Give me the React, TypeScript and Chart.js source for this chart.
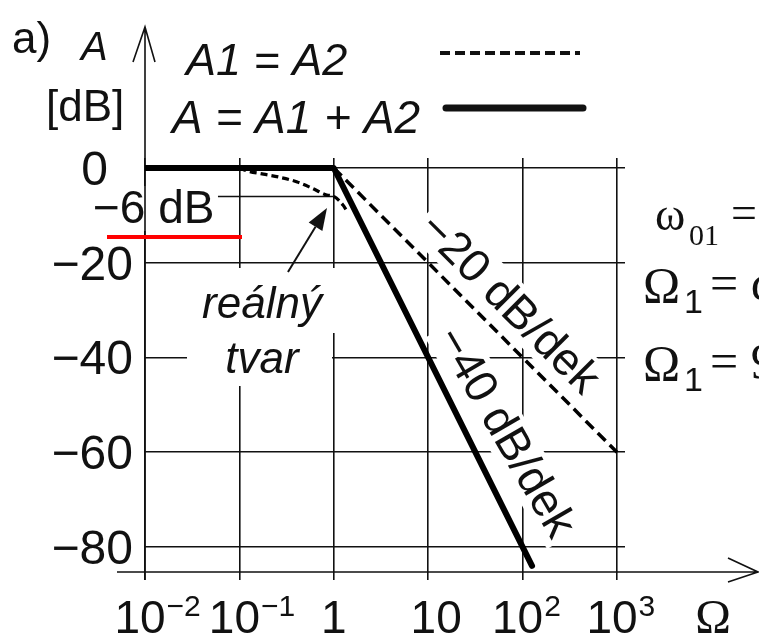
import React, { useEffect, useRef } from "react";
import { Chart, registerables } from "chart.js";

Chart.register(...registerables);

// Frequency decades (normalised Ω) and dB gridlines
const decades = [0.01, 0.1, 1, 10, 100, 1000];
const dbTicks = [0, -20, -40, -60, -80];
const xTickBase = ["10", "10", "1", "10", "10", "10"];
const xTickExp = ["\u22122", "\u22121", "", "", "2", "3"];
const yTickLabels = ["0", "\u221220", "\u221240", "\u221260", "\u221280"];

// A = A1 + A2 asymptote: flat up to the corner, then -40 dB/dek
const sumOmega = [0.01, 1, 125.9];
const sumDb = [0, 0, -84];

// A1 = A2 asymptote: -20 dB/dek from the corner
const singleOmega = [1, 1000];
const singleDb = [0, -60];

// real shape of A around the corner frequency
const realOmega = [0.1, 0.12, 0.18, 0.26, 0.41, 0.58, 0.84, 1, 1.25, 1.35];
const realDb = [0, -0.6, -1.3, -1.9, -2.95, -4.2, -5.7, -6, -7.8, -8.8];

// -6 dB reference level
const sixOmega = [0.0593, 1];
const sixDb = [-6, -6];

// annotation anchors (Ω, dB)
const slope20Anchor = [73.5, -28.5];
const slope40Anchor = [66.7, -55.7];
const arrowFrom = [0.327, -21.95];
const arrowTo = [0.847, -8.44];

const INK = "#111";
const SANS = '"Liberation Sans", Arial, Helvetica, sans-serif';
const SERIF = '"Liberation Serif", "Times New Roman", serif';

const pts = (xs: number[], ys: number[]) => xs.map((x, i) => ({ x, y: ys[i] }));

function rotatedLabel(ctx: CanvasRenderingContext2D, text: string, cx: number, cy: number, angle: number) {
  ctx.save();
  ctx.translate(cx, cy);
  ctx.rotate(angle);
  ctx.font = `46px ${SANS}`;
  const w = ctx.measureText(text).width;
  ctx.fillStyle = "#fff";
  ctx.fillRect(-w / 2 - 5, -23, w + 10, 46);
  ctx.fillStyle = INK;
  ctx.textAlign = "center";
  ctx.textBaseline = "middle";
  ctx.fillText(text, 0, 2);
  ctx.restore();
}

const decor = {
  id: "decor",
  beforeDatasetsDraw(chart: any) {
    const { ctx, chartArea: a, scales } = chart;
    const x = scales.x;
    const y = scales.y;
    const x0 = x.getPixelForValue(decades[0]);
    ctx.save();

    // label boxes that interrupt the grid
    ctx.fillStyle = "#fff";
    ctx.fillRect(88, 186, 128, 45);
    ctx.fillRect(187, 268, 150, 65);
    ctx.fillRect(187, 333, 145, 53);

    // axes with open arrow heads
    ctx.strokeStyle = INK;
    ctx.lineWidth = 1.6;
    ctx.beginPath();
    ctx.moveTo(x0, a.bottom + 8);
    ctx.lineTo(x0, 187);
    ctx.moveTo(x0, 231);
    ctx.lineTo(x0, 27);
    ctx.moveTo(x0 - 12, 62);
    ctx.lineTo(x0, 27);
    ctx.lineTo(x0 + 10, 62);
    ctx.moveTo(117, a.bottom);
    ctx.lineTo(758, a.bottom);
    ctx.moveTo(728, a.bottom - 14);
    ctx.lineTo(758, a.bottom);
    ctx.lineTo(728, a.bottom + 10);
    ctx.stroke();

    ctx.fillStyle = INK;
    ctx.textBaseline = "alphabetic";

    // y tick labels
    ctx.font = `48px ${SANS}`;
    ctx.textAlign = "right";
    dbTicks.forEach((v, i) => {
      const py = y.getPixelForValue(v);
      const px = v === 0 ? x0 - 37 : x0 - 12;
      ctx.fillText(yTickLabels[i], px, py + 17);
    });
    ctx.textAlign = "left";
    ctx.font = `46px ${SANS}`;
    ctx.fillText("\u22126 dB", 93, 223);

    // x tick labels with exponents
    decades.forEach((v, i) => {
      const px = x.getPixelForValue(v);
      const base = xTickBase[i];
      const exp = xTickExp[i];
      ctx.font = `46px ${SANS}`;
      const w = ctx.measureText(base).width;
      if (exp) {
        const left = px - 5 - w / 2;
        ctx.textAlign = "left";
        ctx.fillText(base, left, 633);
        ctx.font = `30px ${SANS}`;
        ctx.fillText(exp, left + w + 1, 616);
      } else {
        ctx.textAlign = "center";
        ctx.fillText(base, base === "1" ? px : px + 8, 633);
      }
    });
    ctx.textAlign = "center";
    ctx.font = `48px ${SERIF}`;
    ctx.fillText("\u03A9", 713, 633);

    // axis title and panel tag
    ctx.textAlign = "left";
    ctx.font = `44px ${SANS}`;
    ctx.fillText("a)", 12, 53);
    ctx.fillText("[dB]", 46, 121);
    ctx.font = `italic 40px ${SANS}`;
    ctx.fillText("A", 81, 60);

    // legend
    ctx.font = `italic 45px ${SANS}`;
    ctx.fillText("A1 = A2", 186, 75);
    ctx.font = `italic 46px ${SANS}`;
    ctx.fillText("A = A1 + A2", 172, 133);
    ctx.strokeStyle = INK;
    ctx.lineWidth = 4;
    ctx.setLineDash([10, 5]);
    ctx.beginPath();
    ctx.moveTo(440, 53);
    ctx.lineTo(580, 53);
    ctx.stroke();
    ctx.setLineDash([]);
    ctx.lineWidth = 7;
    ctx.lineCap = "round";
    ctx.beginPath();
    ctx.moveTo(446, 108);
    ctx.lineTo(583, 108);
    ctx.stroke();
    ctx.lineCap = "butt";

    // real-shape note
    ctx.textAlign = "center";
    ctx.font = `italic 44px ${SANS}`;
    ctx.fillText("re\u00e1ln\u00fd", 262, 318);
    ctx.fillText("tvar", 262, 373);

    // slope labels along the asymptotes
    const s20a = Math.atan2(
      y.getPixelForValue(singleDb[1]) - y.getPixelForValue(singleDb[0]),
      x.getPixelForValue(singleOmega[1]) - x.getPixelForValue(singleOmega[0])
    );
    rotatedLabel(ctx, "\u221220 dB/dek", x.getPixelForValue(slope20Anchor[0]), y.getPixelForValue(slope20Anchor[1]), s20a);
    rotatedLabel(ctx, "\u221240 dB/dek", x.getPixelForValue(slope40Anchor[0]), y.getPixelForValue(slope40Anchor[1]), (60 * Math.PI) / 180);

    // notation on the right
    ctx.textAlign = "left";
    ctx.font = `46px ${SERIF}`;
    ctx.fillText("\u03C9", 655, 230);
    ctx.font = `30px ${SERIF}`;
    ctx.fillText("01", 689, 245);
    ctx.font = `46px ${SERIF}`;
    ctx.fillText("= \u03C9", 731, 228);

    [302, 380].forEach((base, k) => {
      ctx.font = `50px ${SERIF}`;
      ctx.fillText("\u03A9", 643, base);
      ctx.font = `34px ${SANS}`;
      ctx.fillText("1", 684, base + 11);
      ctx.font = `50px ${SERIF}`;
      ctx.fillText(k === 0 ? "= \u03C9/\u03C9" : "= 9", 710, base - 2);
    });

    ctx.restore();
  },
  afterDatasetsDraw(chart: any) {
    const { ctx, scales } = chart;
    const x = scales.x;
    const y = scales.y;
    ctx.save();
    // red underline below the -6 dB note
    ctx.strokeStyle = "#f00";
    ctx.lineWidth = 4;
    ctx.beginPath();
    ctx.moveTo(107, 237);
    ctx.lineTo(242, 237);
    ctx.stroke();

    // arrow pointing at the real curve
    const fx = x.getPixelForValue(arrowFrom[0]);
    const fy = y.getPixelForValue(arrowFrom[1]);
    const tx = x.getPixelForValue(arrowTo[0]);
    const ty = y.getPixelForValue(arrowTo[1]);
    const ang = Math.atan2(ty - fy, tx - fx);
    const len = 22;
    const hw = 8;
    const bx = tx - len * Math.cos(ang);
    const by = ty - len * Math.sin(ang);
    ctx.strokeStyle = INK;
    ctx.fillStyle = INK;
    ctx.lineWidth = 2;
    ctx.beginPath();
    ctx.moveTo(fx, fy);
    ctx.lineTo(bx, by);
    ctx.stroke();
    ctx.beginPath();
    ctx.moveTo(tx, ty);
    ctx.lineTo(bx + hw * Math.sin(ang), by - hw * Math.cos(ang));
    ctx.lineTo(bx - hw * Math.sin(ang), by + hw * Math.cos(ang));
    ctx.closePath();
    ctx.fill();
    ctx.restore();
  },
};

export default function App() {
  const ref = useRef<HTMLCanvasElement>(null);

  useEffect(() => {
    const chart = new Chart(ref.current as HTMLCanvasElement, {
      type: "line",
      data: {
        datasets: [
          {
            data: pts(sumOmega, sumDb),
            borderColor: "#000",
            borderWidth: 6,
            borderCapStyle: "round",
            borderJoinStyle: "round",
            pointRadius: 0,
            tension: 0,
          },
          {
            data: pts(singleOmega, singleDb),
            borderColor: "#000",
            borderWidth: 3.5,
            borderDash: [11, 6],
            pointRadius: 0,
          },
          {
            data: pts(realOmega, realDb),
            borderColor: "#000",
            borderWidth: 3.2,
            borderDash: [7, 4],
            pointRadius: 0,
            cubicInterpolationMode: "monotone",
          },
          {
            data: pts(sixOmega, sixDb),
            borderColor: INK,
            borderWidth: 1.5,
            pointRadius: 0,
          },
        ],
      } as any,
      options: {
        responsive: false,
        animation: false,
        devicePixelRatio: 1,
        events: [],
        layout: { padding: { left: 145, right: 134, top: 158, bottom: 66 } },
        plugins: { legend: { display: false }, tooltip: { enabled: false } },
        scales: {
          x: {
            type: "logarithmic",
            min: 0.01,
            max: 1216,
            afterBuildTicks: (s: any) => {
              s.ticks = decades.map((v) => ({ value: v }));
            },
            afterFit: (s: any) => {
              s.height = 0;
            },
            ticks: { display: false },
            grid: { color: INK, lineWidth: 1.6, drawTicks: true, tickLength: 8, tickColor: INK },
            border: { display: false },
          },
          y: {
            type: "linear",
            min: -85.28,
            max: 2.11,
            afterBuildTicks: (s: any) => {
              s.ticks = dbTicks.map((v) => ({ value: v }));
            },
            afterFit: (s: any) => {
              s.width = 0;
            },
            ticks: { display: false },
            grid: { color: INK, lineWidth: 1.6, drawTicks: false },
            border: { display: false },
          },
        },
      } as any,
      plugins: [decor],
    });
    return () => chart.destroy();
  }, []);

  return (
    <div style={{ position: "fixed", left: 0, top: 0, width: 759, height: 638, background: "#fff" }}>
      <canvas ref={ref} width={759} height={638} style={{ display: "block" }} />
    </div>
  );
}
